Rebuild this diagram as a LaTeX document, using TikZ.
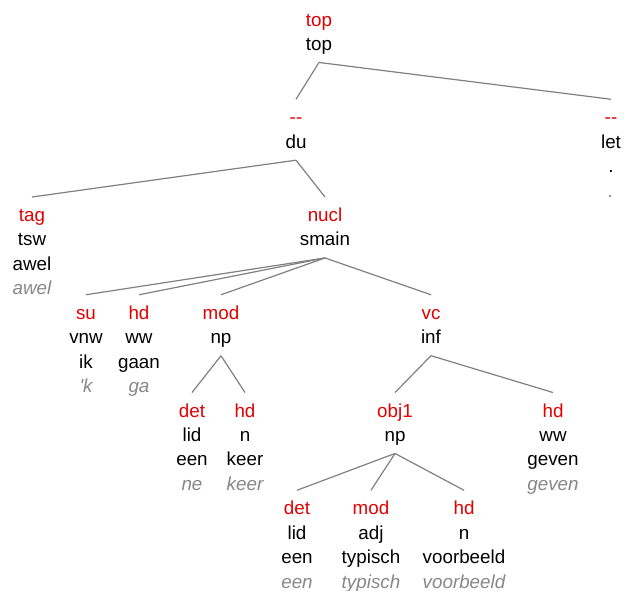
\documentclass[tikz,border=0pt]{standalone}
\usepackage{fontspec}
\setmainfont{Liberation Sans}
\definecolor{relred}{RGB}{226,0,0}
\definecolor{lemmagray}{RGB}{135,135,135}
\definecolor{edgegray}{RGB}{128,128,128}
\tikzset{
  txt/.style={font=\fontsize{18.8}{22}\selectfont, inner sep=0pt, anchor=base},
  rel/.style={txt, text=relred, text height=13.5pt, text depth=4pt, outer ysep=11pt},
  cat/.style={txt, text=black, text height=13.5pt, text depth=4pt, outer ysep=8pt},
  word/.style={txt, text=black},
  lemma/.style={txt, text=lemmagray, font=\fontsize{18.8}{22}\selectfont\itshape},
  edge/.style={draw=edgegray, line width=1.2pt},
}
% internal tree node: name, x, baseline y, relation, category
\newcommand\treenode[5]{%
  \node[rel] (#1) at (#2,#3) {#4};
  \node[cat] (#1-c) at (#2,#3+24.45) {#5};}
% leaf: name, x, baseline y, relation, category, word, lemma
\newcommand\treeleaf[7]{%
  \treenode{#1}{#2}{#3}{#4}{#5}
  \node[word] (#1-w) at (#2,#3+48.9) {#6};
  \node[lemma] (#1-l) at (#2,#3+73.35) {#7};}
\begin{document}
\begin{tikzpicture}[x=1pt,y=-1pt]
\useasboundingbox (0,0) rectangle (624,590);
% level baselines: 26, 123.75, 221.5, 319.25, 417, 514.75
\treenode{top}{319}{26}{top}{top}
\treenode{du}{296}{123.75}{-{}-}{du}
\treeleaf{let}{611}{123.75}{-{}-}{let}{.}{.}
\treeleaf{tag}{32}{221.5}{tag}{tsw}{awel}{awel}
\treenode{nucl}{325}{221.5}{nucl}{smain}
\treeleaf{su}{86}{319.25}{su}{vnw}{ik}{\textquotesingle k}
\treeleaf{hdA}{139}{319.25}{hd}{ww}{gaan}{ga}
\treenode{modA}{221}{319.25}{mod}{np}
\treenode{vc}{431}{319.25}{vc}{inf}
\treeleaf{detA}{192}{417}{det}{lid}{een}{ne}
\treeleaf{hdB}{245}{417}{hd}{n}{keer}{keer}
\treenode{obj}{395}{417}{obj1}{np}
\treeleaf{hdC}{553}{417}{hd}{ww}{geven}{geven}
\treeleaf{detB}{297}{514.75}{det}{lid}{een}{een}
\treeleaf{modB}{371}{514.75}{mod}{adj}{typisch}{typisch}
\treeleaf{hdD}{464}{514.75}{hd}{n}{voorbeeld}{voorbeeld}
% connectors
\draw[edge] (top-c.south) -- (du.north);
\draw[edge] (top-c.south) -- (let.north);
\draw[edge] (du-c.south) -- (tag.north);
\draw[edge] (du-c.south) -- (nucl.north);
\foreach \c in {su,hdA,modA,vc} \draw[edge] (nucl-c.south) -- (\c.north);
\foreach \c in {detA,hdB} \draw[edge] (modA-c.south) -- (\c.north);
\foreach \c in {obj,hdC} \draw[edge] (vc-c.south) -- (\c.north);
\foreach \c in {detB,modB,hdD} \draw[edge] (obj-c.south) -- (\c.north);
\end{tikzpicture}
\end{document}
